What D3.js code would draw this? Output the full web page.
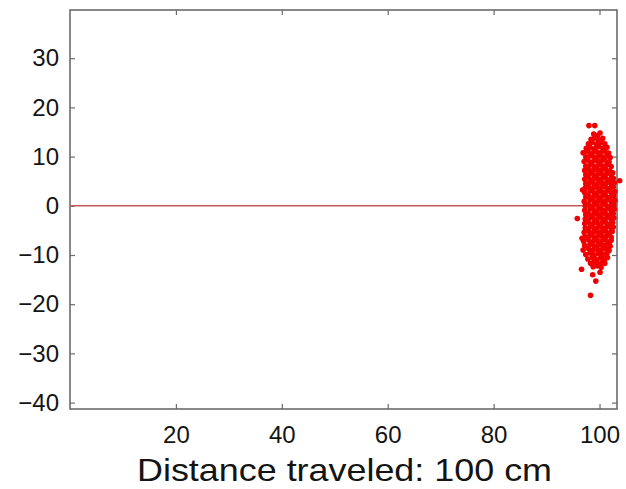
<!DOCTYPE html>
<meta charset="utf-8">
<style>
  body { margin: 0; background: #fff; }
  #chart text { font-family: "Liberation Sans", Arial, sans-serif; fill: #141414; }
</style>
<body>
  <div id="chart"></div>
  <script src="https://d3js.org/d3.v7.min.js"></script>
  <script>
    // tick values
    const xTicks = [20, 40, 60, 80, 100]
    const yTicks = [-40, -30, -20, -10, 0, 10, 20, 30]
    const xLimits = [0, 103.3]
    const yLimits = [-41.3, 39.8]

    // the straight path (red line)
    const pathLine = [[0, 0], [99.5, 0]]

    // end positions, dense body of the cloud
    const endPoints = [
      [98.9,14.6],[99.6,14.3],[100.1,14.8],
      [98.4,13.5],[99.1,13.8],[99.8,13.4],[100.6,13.7],
      [97.9,12.6],[98.6,12.9],[99.4,12.5],[100.2,12.8],[101.0,12.6],
      [97.5,11.7],[98.2,11.9],[99.0,11.6],[99.8,12.0],[100.6,11.7],[101.4,11.9],
      [97.1,10.8],[97.8,11.1],[98.6,10.7],[99.4,11.0],[100.2,10.8],[101.0,11.1],[101.7,10.7],
      [97.4,9.9],[98.2,10.2],[99.0,9.8],[99.8,10.1],[100.6,9.9],[101.4,10.2],[102.0,9.8],
      [97.1,9.0],[97.8,9.3],[98.6,8.9],[99.4,9.2],[100.2,9.0],[101.0,9.3],[101.8,8.9],
      [97.4,8.1],[98.2,8.4],[99.0,8.0],[99.8,8.3],[100.6,8.1],[101.4,8.4],[102.2,8.0],
      [97.2,7.2],[97.9,7.5],[98.7,7.1],[99.5,7.4],[100.3,7.2],[101.1,7.5],[101.9,7.1],
      [97.4,6.3],[98.2,6.6],[99.0,6.2],[99.8,6.5],[100.6,6.3],[101.4,6.6],[102.2,6.2],[102.5,6.7],
      [97.2,5.4],[97.9,5.7],[98.7,5.3],[99.5,5.6],[100.3,5.4],[101.1,5.7],[101.9,5.3],[102.6,5.6],
      [97.4,4.5],[98.2,4.8],[99.0,4.4],[99.8,4.7],[100.6,4.5],[101.4,4.8],[102.2,4.4],[102.8,4.7],
      [97.3,3.6],[97.9,3.9],[98.7,3.5],[99.5,3.8],[100.3,3.6],[101.1,3.9],[101.9,3.5],[102.6,3.8],
      [97.2,2.7],[98.2,3.0],[99.0,2.6],[99.8,2.9],[100.6,2.7],[101.4,3.0],[102.2,2.6],[102.9,2.9],
      [97.4,1.8],[97.9,2.1],[98.7,1.7],[99.5,2.0],[100.3,1.8],[101.1,2.1],[101.9,1.7],[102.7,2.0],
      [97.1,0.9],[98.2,1.2],[99.0,0.8],[99.8,1.1],[100.6,0.9],[101.4,1.2],[102.2,0.8],[102.9,1.1],
      [97.3,0.0],[97.9,0.3],[98.7,-0.1],[99.5,0.2],[100.3,0.0],[101.1,0.3],[101.9,-0.1],[102.7,0.2],
      [97.2,-0.9],[98.2,-0.6],[99.0,-1.0],[99.8,-0.7],[100.6,-0.9],[101.4,-0.6],[102.2,-1.0],[102.8,-0.7],
      [97.4,-1.8],[97.9,-1.5],[98.7,-1.9],[99.5,-1.6],[100.3,-1.8],[101.1,-1.5],[101.9,-1.9],[102.6,-1.6],
      [97.3,-2.7],[98.2,-2.4],[99.0,-2.8],[99.8,-2.5],[100.6,-2.7],[101.4,-2.4],[102.2,-2.8],[102.7,-2.5],
      [97.2,-3.6],[97.9,-3.3],[98.7,-3.7],[99.5,-3.4],[100.3,-3.6],[101.1,-3.3],[101.9,-3.7],[102.5,-3.4],
      [97.3,-4.5],[98.2,-4.2],[99.0,-4.6],[99.8,-4.3],[100.6,-4.5],[101.4,-4.2],[102.2,-4.6],[102.6,-4.3],
      [97.1,-5.4],[97.9,-5.1],[98.7,-5.5],[99.5,-5.2],[100.3,-5.4],[101.1,-5.1],[101.9,-5.5],[102.4,-5.2],
      [97.3,-6.3],[98.2,-6.0],[99.0,-6.4],[99.8,-6.1],[100.6,-6.3],[101.4,-6.0],[102.2,-6.4],
      [97.0,-7.2],[97.9,-6.9],[98.7,-7.3],[99.5,-7.0],[100.3,-7.2],[101.1,-6.9],[101.9,-7.3],[102.2,-7.0],
      [97.2,-8.1],[98.2,-7.8],[99.0,-8.2],[99.8,-7.9],[100.6,-8.1],[101.4,-7.8],[102.0,-8.2],
      [96.9,-9.0],[97.9,-8.7],[98.7,-9.1],[99.5,-8.8],[100.3,-9.0],[101.1,-8.7],[101.8,-9.1],
      [97.4,-9.9],[98.2,-9.6],[99.0,-10.0],[99.8,-9.7],[100.6,-9.9],[101.4,-9.6],
      [97.8,-10.8],[98.6,-10.5],[99.4,-10.9],[100.2,-10.6],[101.0,-10.8],[101.5,-10.5],
      [98.3,-11.7],[99.0,-11.4],[99.8,-11.8],[100.6,-11.5],[101.0,-11.7],
      [98.8,-12.4],[99.6,-12.2],[100.3,-12.5]
    ]

    // stray points around the cloud
    const strayPoints = [
      [98.0,16.3],[99.1,16.3],[96.9,10.8],[103.8,5.1],[95.8,-2.6],[96.8,3.2],[96.7,-6.6],
      [96.6,-12.9],[98.7,-14.0],[100.1,-13.5],[99.3,-15.3],[98.3,-18.2]
    ]

    const width = 626, height = 489
    const box = { left: 70, right: 617, top: 10, bottom: 409 }

    const svg = d3.select("#chart")
      .append("svg")
      .attr("width", width)
      .attr("height", height)

    const x = d3.scaleLinear().domain(xLimits).range([box.left, box.right])
    const y = d3.scaleLinear().domain(yLimits).range([box.bottom, box.top])

    const frameColor = "#6b6b6b"
    const tickLen = 5

    // ticks on all four sides, pointing inward
    const axes = [
      { g: d3.axisBottom(x), t: `translate(0,${box.bottom})`, vals: xTicks, pad: 17 },
      { g: d3.axisTop(x), t: `translate(0,${box.top})`, vals: xTicks, pad: 0 },
      { g: d3.axisLeft(y), t: `translate(${box.left},0)`, vals: yTicks, pad: 11 },
      { g: d3.axisRight(y), t: `translate(${box.right},0)`, vals: yTicks, pad: 0 }
    ]
    axes.forEach(function (a) {
      const g = svg.append("g")
        .attr("transform", a.t)
        .call(a.g.tickValues(a.vals).tickSizeInner(-tickLen).tickSizeOuter(0)
          .tickPadding(a.pad)
          .tickFormat(a.pad ? d => d < 0 ? "\u2212" + Math.abs(d) : d : ""))
      g.select(".domain").remove()
      g.selectAll("line").attr("stroke", frameColor).attr("stroke-width", 1.2)
      g.selectAll("text").style("font-size", "24px")
    })

    // frame
    svg.append("rect")
      .attr("x", box.left)
      .attr("y", box.top)
      .attr("width", box.right - box.left)
      .attr("height", box.bottom - box.top)
      .attr("fill", "none")
      .attr("stroke", frameColor)
      .attr("stroke-width", 1.6)

    // straight path
    svg.append("path")
      .datum(pathLine)
      .attr("d", d3.line().x(d => x(d[0])).y(d => y(d[1])))
      .attr("stroke", "#c45a5a")
      .attr("stroke-width", 1.4)
      .attr("fill", "none")

    // end positions
    svg.append("g")
      .selectAll("circle")
      .data(endPoints.concat(strayPoints))
      .join("circle")
      .attr("cx", d => x(d[0]))
      .attr("cy", d => y(d[1]))
      .attr("r", 2.8)
      .attr("fill", "#f00000")

    // x label
    svg.append("text")
      .attr("x", 137)
      .attr("y", 481)
      .attr("textLength", 415)
      .attr("lengthAdjust", "spacingAndGlyphs")
      .style("font-size", "32px")
      .text("Distance traveled: 100 cm")
  </script>
</body>
</html>
